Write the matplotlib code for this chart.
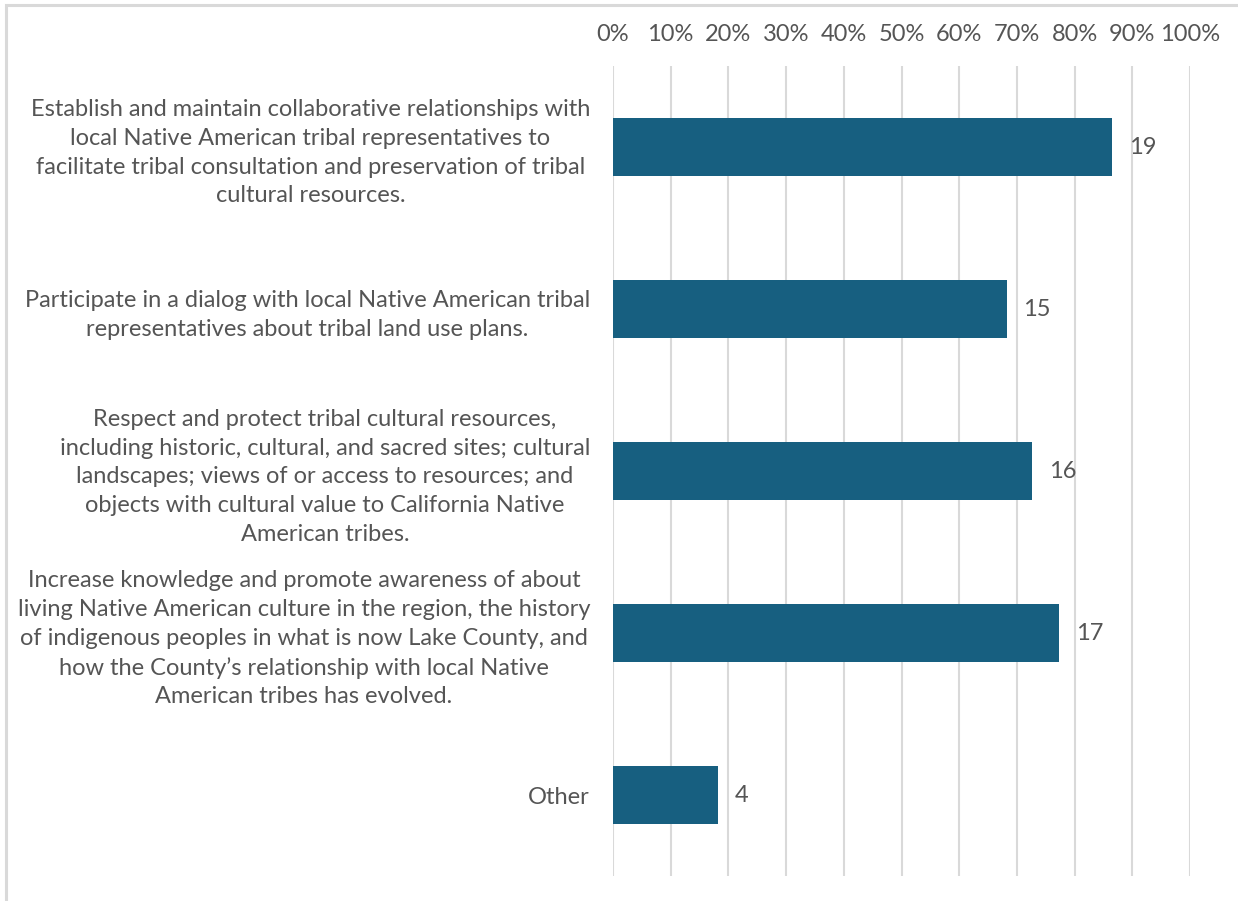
import matplotlib
matplotlib.use("Agg")
import matplotlib.pyplot as plt
from matplotlib.patches import Rectangle
from matplotlib.ticker import PercentFormatter

# Categories (top to bottom), as wrapped in the reference
categories = [
    "Establish and maintain collaborative relationships with\n"
    "local Native American tribal representatives to\n"
    "facilitate tribal consultation and preservation of tribal\n"
    "cultural resources.",
    "Participate in a dialog with local Native American tribal\n"
    "representatives about tribal land use plans.",
    "Respect and protect tribal cultural resources,\n"
    "including historic, cultural, and sacred sites; cultural\n"
    "landscapes; views of or access to resources; and\n"
    "objects with cultural value to California Native\n"
    "American tribes.",
    "Increase knowledge and promote awareness of about\n"
    "living Native American culture in the region, the history\n"
    "of indigenous peoples in what is now Lake County, and\n"
    "how the County\u2019s relationship with local Native\n"
    "American tribes has evolved.",
    "Other",
]
counts = [19, 15, 16, 17, 4]
percents = [86.4, 68.2, 72.7, 77.3, 18.2]
x_ticks = [0, 10, 20, 30, 40, 50, 60, 70, 80, 90, 100]

bar_color = "#175F80"
text_color = "#555555"
grid_color = "#D9D9D9"

plt.rcParams["font.family"] = ["Lato", "DejaVu Sans"]

fig = plt.figure(figsize=(12.38, 9.01), dpi=100)
fig.patch.set_facecolor("white")

# light frame, only left/top edges are visible in the crop
fig.add_artist(Rectangle((6 / 1238, -0.1), 1.2, 1.1 - 4.5 / 901,
                         transform=fig.transFigure, facecolor="none",
                         edgecolor=grid_color, linewidth=2.2))

ax = fig.add_axes([613 / 1238, 25 / 901, 577 / 1238, 810 / 901])

ypos = list(range(len(categories)))
bars = ax.barh(ypos, percents, height=0.355, color=bar_color, zorder=3)

for rect, n in zip(bars, counts):
    ax.annotate(str(n), (rect.get_width(), rect.get_y() + rect.get_height() / 2),
                xytext=(17, 0), textcoords="offset pixels",
                ha="left", va="center", fontsize=17, color=text_color)

ax.set_xlim(0, 100)
ax.set_ylim(len(categories) - 0.5, -0.5)
ax.set_xticks(x_ticks)
ax.xaxis.set_major_formatter(PercentFormatter(decimals=0))
ax.xaxis.tick_top()
ax.set_yticks(ypos)
ax.set_yticklabels(categories, multialignment="center", linespacing=1.45)

ax.tick_params(axis="x", length=0, pad=15, labelsize=17, labelcolor=text_color)
ax.tick_params(axis="y", length=0, pad=16.5, labelsize=17, labelcolor=text_color)

ax.grid(axis="x", color=grid_color, linewidth=1.5, zorder=0)
for s in ax.spines.values():
    s.set_visible(False)

fig.savefig("out.png", dpi=100, facecolor="white")
